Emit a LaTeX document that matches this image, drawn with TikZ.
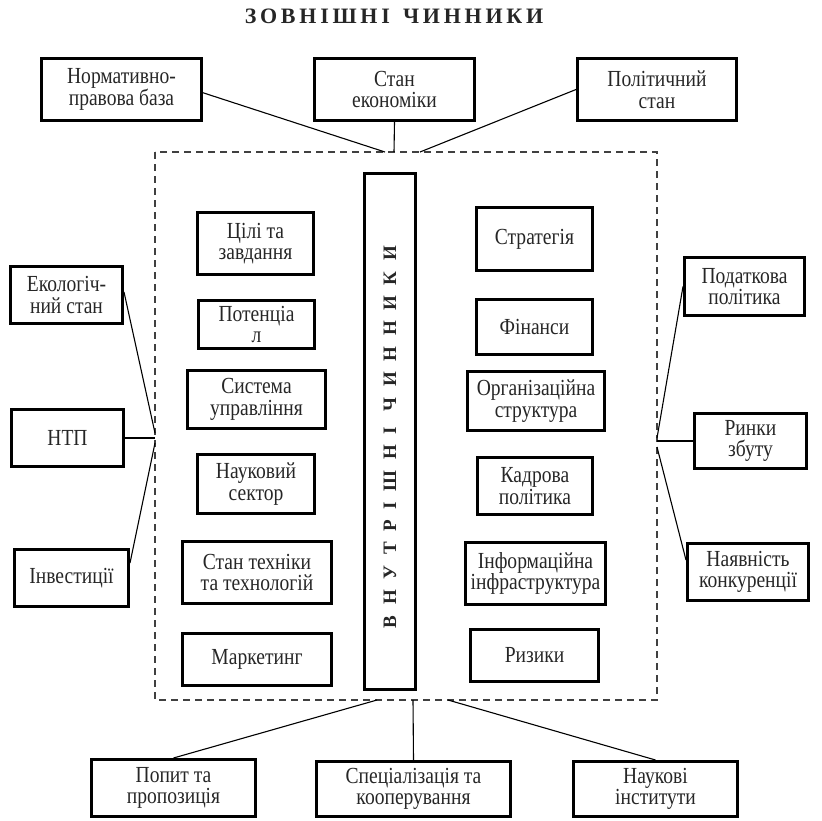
\documentclass[tikz,border=0pt]{standalone}
\usepackage{fontspec}
\setmainfont{Liberation Serif}
\newfontfamily\boxfont{Liberation Serif}[FakeStretch=0.85]
\usetikzlibrary{calc}

% a factor box given by its outer corners (x1,y1) and (x2,y2)
\newcommand\factorbox[6]{%
  \node[fbox, minimum width={#4-#2-3}, minimum height={#5-#3-3}]
    (#1) at ({(#2+#4)/2},{(#3+#5)/2}) {#6};}

\begin{document}
\begin{tikzpicture}[x=1pt,y=-1pt,
  fbox/.style={draw=black, line width=3pt, align=center, inner sep=0pt,
    font=\boxfont\fontsize{23}{21.5}\selectfont, text=black!85},
  link/.style={draw=black, line width=1.1pt},
  frame/.style={draw=black!75, line width=1.1pt, dash pattern=on 7pt off 5pt}]
\useasboundingbox (0,0) rectangle (822,820);

% heading
\node[font=\fontsize{22}{24}\selectfont\bfseries\addfontfeature{LetterSpace=17}, text=black!85]
  (title) at (394,16) {ЗОВНІШНІ\hspace{4pt} ЧИННИКИ};

% dashed frame of the enterprise
\draw[frame] (155,152) rectangle (657,700);

% inner vertical bar
\node[draw=black, line width=3pt, minimum width=51, minimum height=516, inner sep=0pt]
  (bar) at (390,431.5) {};
\node[rotate=90, font=\fontsize{19}{21}\selectfont\bfseries\addfontfeature{LetterSpace=56}, text=black!85]
  (barlabel) at (390,437) {ВНУТРІШНІ ЧИННИКИ};

% external factors, top
\factorbox{norm}{40}{57}{203}{122}{Нормативно-\\правова база}
\factorbox{econ}{313}{57}{476}{122}{Стан\\економіки}
\factorbox{polit}{576}{57}{738}{122}{Політичний\\стан}

% external factors, left
\factorbox{eco}{9}{265}{124}{325}{Екологіч-\\ний стан}
\factorbox{ntp}{10}{408}{125}{468}{НТП}
\factorbox{inv}{13}{548}{130}{608}{Інвестиції}

% external factors, right
\factorbox{tax}{683}{256}{806}{317}{Податкова\\політика}
\factorbox{market}{693}{412}{808}{470}{Ринки\\збуту}
\factorbox{compet}{686}{542}{810}{602}{Наявність\\конкуренції}

% external factors, bottom
\factorbox{demand}{90}{758}{257}{818}{Попит та\\пропозиція}
\factorbox{spec}{315}{760}{512}{818}{Спеціалізація та\\кооперування}
\factorbox{inst}{572}{760}{739}{818}{Наукові\\інститути}

% internal factors, left column
\factorbox{goals}{196}{211}{315}{276}{Цілі та\\завдання}
\factorbox{potent}{197}{299}{316}{350}{Потенціа\\л}
\factorbox{manage}{186}{369}{327}{430}{Система\\управління}
\factorbox{science}{196}{453}{316}{515}{Науковий\\сектор}
\factorbox{tech}{181}{540}{333}{605}{Стан техніки\\та технологій}
\factorbox{mkt}{181}{632}{333}{687}{Маркетинг}

% internal factors, right column
\factorbox{strat}{475}{206}{594}{272}{Стратегія}
\factorbox{fin}{475}{298}{594}{356}{Фінанси}
\factorbox{org}{466}{370}{606}{432}{Організаційна\\структура}
\factorbox{staff}{476}{456}{594}{516}{Кадрова\\політика}
\factorbox{info}{464}{541}{607}{606}{Інформаційна\\інфраструктура}
\factorbox{risk}{469}{628}{600}{683}{Ризики}

% points where the links meet the frame
\coordinate (ftl) at (385,152);
\coordinate (ftc) at (394,152);
\coordinate (ftr) at (420,152);
\coordinate (fl1) at (155,433);
\coordinate (fl2) at (155,438);
\coordinate (fl3) at (155,443);
\coordinate (fr1) at (657,438);
\coordinate (fr2) at (657,441);
\coordinate (fr3) at (657,447);
\coordinate (fbl) at (377,700);
\coordinate (fbc) at (413,700);
\coordinate (fbr) at (448,700);

% links
\draw[link] ($(norm.north east)!0.55!(norm.south east)$) -- (ftl);
\draw[link] (econ.south) -- (ftc);
\draw[link] (polit.west) -- (ftr);
\draw[link] ($(eco.north east)!0.45!(eco.south east)$) -- (fl1);
\draw[link] (ntp.east) -- (fl2);
\draw[link] ($(inv.north east)!0.25!(inv.south east)$) -- (fl3);
\draw[link] (tax.west) -- (fr1);
\draw[link] (market.west) -- (fr2);
\draw[link] ($(compet.north west)!0.3!(compet.south west)$) -- (fr3);
\draw[link] (demand.north) -- (fbl);
\draw[link] (spec.north) -- (fbc);
\draw[link] (inst.north) -- (fbr);
\end{tikzpicture}
\end{document}
